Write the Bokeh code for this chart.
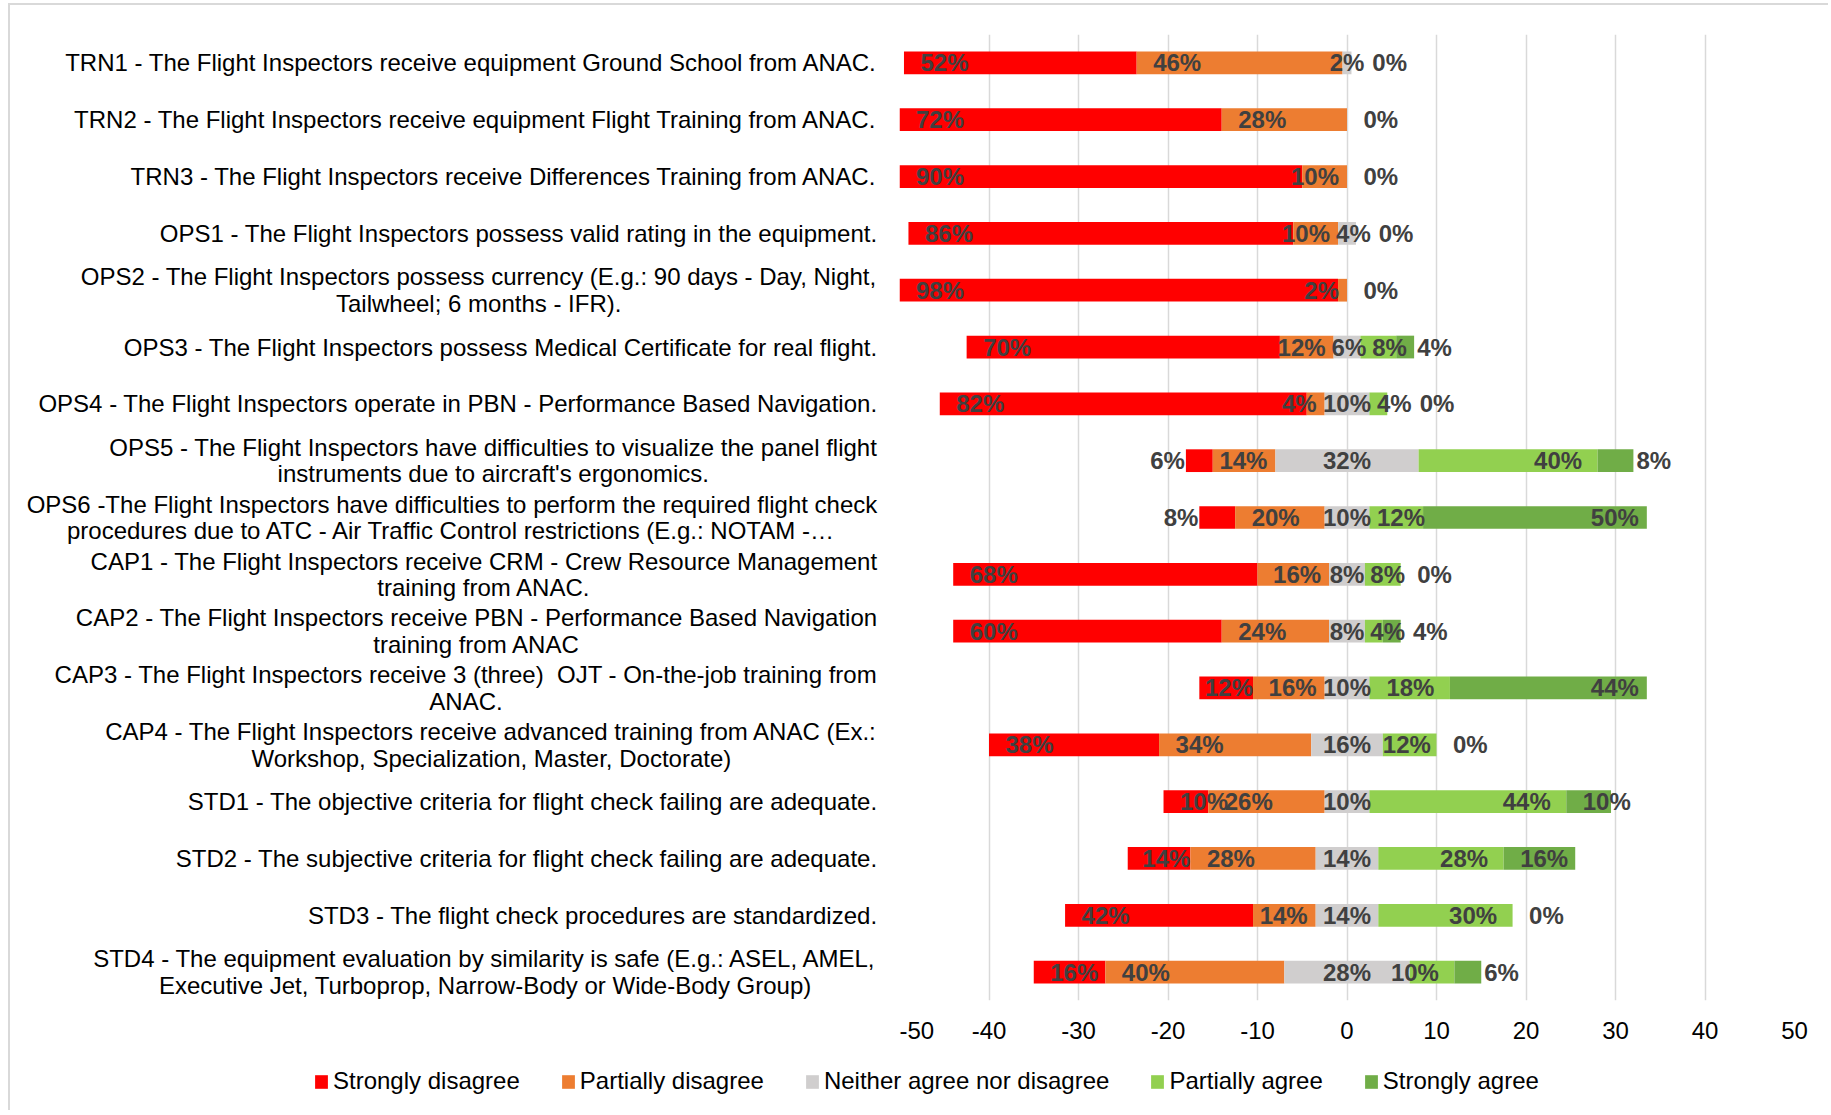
from bokeh.plotting import figure
from bokeh.layouts import row, column
from bokeh.models import (ColumnDataSource, FactorRange, Range1d, FixedTicker,
                          Legend, LegendItem)
from bokeh.core.properties import value
from bokeh.embed import file_html
from bokeh.resources import INLINE

# ---------------- data ----------------
categories = [
    "TRN1 - The Flight Inspectors receive equipment Ground School from ANAC.",
    "TRN2 - The Flight Inspectors receive equipment Flight Training from ANAC.",
    "TRN3 - The Flight Inspectors receive Differences Training from ANAC.",
    "OPS1 - The Flight Inspectors possess valid rating in the equipment.",
    "OPS2 - The Flight Inspectors possess currency (E.g.: 90 days - Day, Night,\nTailwheel; 6 months - IFR).",
    "OPS3 - The Flight Inspectors possess Medical Certificate for real flight.",
    "OPS4 - The Flight Inspectors operate in PBN - Performance Based Navigation.",
    "OPS5 - The Flight Inspectors have difficulties to visualize the panel flight\ninstruments due to aircraft's ergonomics.",
    "OPS6 -The Flight Inspectors have difficulties to perform the required flight check\nprocedures due to ATC - Air Traffic Control restrictions (E.g.: NOTAM -\u2026",
    "CAP1 - The Flight Inspectors receive CRM - Crew Resource Management\ntraining from ANAC.",
    "CAP2 - The Flight Inspectors receive PBN - Performance Based Navigation\ntraining from ANAC",
    "CAP3 - The Flight Inspectors receive 3 (three)\u00a0 OJT - On-the-job training from\nANAC.",
    "CAP4 - The Flight Inspectors receive advanced training from ANAC (Ex.:\nWorkshop, Specialization, Master, Doctorate)",
    "STD1 - The objective criteria for flight check failing are adequate.",
    "STD2 - The subjective criteria for flight check failing are adequate.",
    "STD3 - The flight check procedures are standardized.",
    "STD4 - The equipment evaluation by similarity is safe (E.g.: ASEL, AMEL,\nExecutive Jet, Turboprop, Narrow-Body or Wide-Body Group)",
]
strongly_disagree  = [52, 72, 90, 86, 98, 70, 82, 6, 8, 68, 60, 12, 38, 10, 14, 42, 16]
partially_disagree = [46, 28, 10, 10, 2, 12, 4, 14, 20, 16, 24, 16, 34, 26, 28, 14, 40]
neutral            = [2, 0, 0, 4, 0, 6, 10, 32, 10, 8, 8, 10, 16, 10, 14, 14, 28]
partially_agree    = [0, 0, 0, 0, 0, 8, 4, 40, 12, 8, 4, 18, 12, 44, 28, 30, 10]
strongly_agree     = [0, 0, 0, 0, 0, 4, 0, 8, 50, 0, 4, 44, 0, 10, 16, 0, 6]

series_names = ["Strongly disagree", "Partially disagree", "Neither agree nor disagree",
                "Partially agree", "Strongly agree"]
series_colors = ["#FF0000", "#ED7D31", "#D0CECE", "#92D050", "#70AD47"]
x_ticks = [-50, -40, -30, -20, -10, 0, 10, 20, 30, 40, 50]
x_tick_labels = ["-50", "-40", "-30", "-20", "-10", "0", "10", "20", "30", "40", "50"]

# ---------------- layout ----------------
TW = 1818            # total canvas width
LW = 889             # width of the category-label panel
PH = 1050            # height of the chart row
LH = 55              # height of the legend strip
MT, MB, MR = 29, 55, 34
FRAME_W = TW - LW - MR
X0, X1 = -50, 50
PPU = FRAME_W / (X1 - X0)
FONT = "Liberation Sans"
FS = 24

# Arial / Liberation Sans advance widths (1/1000 em)
_W = {" ": 278, "\u00a0": 278, "-": 333, ".": 278, ",": 278, "(": 333, ")": 333, ":": 278,
      ";": 278, "'": 191, "%": 889, "\u2026": 1000}
for c in "0123456789":
    _W[c] = 556
for c, w in zip("ABCDEFGHIJKLMNOPQRSTUVWXYZ",
                [667, 667, 722, 722, 667, 611, 778, 722, 278, 500, 667, 556, 833, 722, 778,
                 667, 778, 722, 667, 611, 722, 667, 944, 667, 667, 611]):
    _W[c] = w
for c, w in zip("abcdefghijklmnopqrstuvwxyz",
                [556, 556, 500, 556, 556, 278, 556, 556, 222, 222, 500, 222, 833, 556, 556,
                 556, 556, 333, 500, 278, 556, 500, 722, 500, 500, 500]):
    _W[c] = w


def text_w(s, size=FS):
    return sum(_W.get(ch, 556) for ch in s) / 1000.0 * size


# ---------------- segments (axis unit = half a percent, neutral centred) ----------------
seg = {k: [] for k in ("sd_l", "sd_r", "pd_l", "pd_r", "n_l", "n_r", "pa_l", "pa_r", "sa_l", "sa_r")}
for sd, pd, n, pa, sa in zip(strongly_disagree, partially_disagree, neutral,
                             partially_agree, strongly_agree):
    nh = n / 4.0
    pd_r = -nh
    pd_l = pd_r - pd / 2.0
    sd_r = pd_l
    sd_l = sd_r - sd / 2.0
    pa_l = nh
    pa_r = pa_l + pa / 2.0
    sa_l = pa_r
    sa_r = sa_l + sa / 2.0
    for k, v in (("sd_l", sd_l), ("sd_r", sd_r), ("pd_l", pd_l), ("pd_r", pd_r),
                 ("n_l", -nh), ("n_r", nh), ("pa_l", pa_l), ("pa_r", pa_r),
                 ("sa_l", sa_l), ("sa_r", sa_r)):
        seg[k].append(v)

y_range = FactorRange(factors=list(reversed(categories)))

p = figure(width=TW - LW, height=PH, output_backend="svg", toolbar_location=None,
           x_range=Range1d(X0, X1), y_range=y_range, y_axis_location=None,
           min_border_left=0, min_border_right=MR, min_border_top=MT, min_border_bottom=MB)
p.outline_line_color = None
p.background_fill_color = "white"
p.border_fill_color = "white"

renderers = []
for key, color in zip(("sd", "pd", "n", "pa", "sa"), series_colors):
    src = ColumnDataSource(dict(y=categories, left=seg[key + "_l"], right=seg[key + "_r"]))
    r = p.hbar(y="y", left="left", right="right", height=0.4, source=src,
               fill_color=color, line_color=None)
    renderers.append(r)

# ---------------- data labels ----------------
lx, ly, lt, lo = [], [], [], []


def px(v):
    return v * PPU


def add(x_anchor, cat, txt, left_px):
    lx.append(x_anchor)
    ly.append(cat)
    lt.append(txt)
    lo.append(left_px - px(x_anchor))


for i, cat in enumerate(categories):
    sd, pd, n, pa, sa = (strongly_disagree[i], partially_disagree[i], neutral[i],
                         partially_agree[i], strongly_agree[i])
    prev_right = None
    if sd > 0:
        t = f"{sd}%"; tw = text_w(t)
        l, r = seg["sd_l"][i], seg["sd_r"][i]
        sw = px(r - l)
        if sw < 40:
            left = px(l) - 1 - tw
        elif sw - tw >= 16.5:
            left = px(l) + 16.5
        elif sw - tw >= 0:
            left = px(l) + (sw - tw)
        else:
            left = px(l) + 16.5
        add(l, cat, t, left)
        prev_right = left + tw
    if pd > 0:
        t = f"{pd}%"; tw = text_w(t)
        l, r = seg["pd_l"][i], seg["pd_r"][i]
        sw = px(r - l)
        if sw >= tw + 33:
            left = px(l) + 16.5
            add(l, cat, t, left)
        else:
            left = px(r) - 8 - tw
            add(r, cat, t, left)
        prev_right = left + tw
    if n > 0:
        t = f"{n}%"; tw = text_w(t)
        c = (seg["n_l"][i] + seg["n_r"][i]) / 2.0
        left = px(c) - tw / 2.0
        if prev_right is not None:
            left = max(left, prev_right + 6)
        add(c, cat, t, left)
        prev_right = left + tw
    if pa > 0:
        t = f"{pa}%"; tw = text_w(t)
        l, r = seg["pa_l"][i], seg["pa_r"][i]
        sw = px(r - l)
        if tw <= sw:
            left = px(r) - min(15.5, sw - tw) - tw
        elif sw >= 40:
            left = px(r) - 15.5 - tw
        else:
            left = px(l) + 4
        if prev_right is not None:
            left = max(left, prev_right + 6)
        add(r, cat, t, left)
        prev_right = left + tw
    t = f"{sa}%"; tw = text_w(t)
    l, r = seg["sa_l"][i], seg["sa_r"][i]
    sw = px(r - l)
    if sw > tw + 33:
        left = px(r) - 8 - tw
    elif sw >= 40:
        left = px(l) + 16.5
    else:
        left = max(px(l) + 16.5, px(r) + 3)
    if prev_right is not None:
        left = max(left, prev_right + 8)
    add(l, cat, t, left)

lab_src = ColumnDataSource(dict(x=lx, y=ly, t=lt, xo=lo))
p.text(x="x", y="y", text="t", x_offset="xo", source=lab_src,
       text_font=value(FONT), text_font_size=f"{FS}px", text_font_style="bold",
       text_color="#404040", text_align="left", text_baseline="middle")

# ---------------- axes & grid ----------------
ticker = FixedTicker(ticks=x_ticks)
p.xaxis.ticker = ticker
p.xaxis.major_label_overrides = dict(zip(x_ticks, x_tick_labels))
p.xaxis.axis_line_color = None
p.xaxis.major_tick_line_color = None
p.xaxis.minor_tick_line_color = None
p.xaxis.major_tick_out = 0
p.xaxis.major_tick_in = 0
p.xaxis.major_label_standoff = 21
p.xaxis.major_label_text_font = FONT
p.xaxis.major_label_text_font_size = f"{FS}px"
p.xaxis.major_label_text_color = "black"
p.xgrid.ticker = ticker
p.xgrid.grid_line_color = "#D9D9D9"
p.xgrid.grid_line_width = 1.5
p.ygrid.grid_line_color = None

# ---------------- category labels (left panel sharing the y range) ----------------
pl = figure(width=LW, height=PH, output_backend="svg", toolbar_location=None,
            x_range=Range1d(0, LW), y_range=y_range,
            x_axis_location=None, y_axis_location=None,
            min_border_left=0, min_border_right=0, min_border_top=MT, min_border_bottom=MB)
pl.outline_line_color = None
pl.grid.visible = False
LABEL_RIGHT = LW - 22
cx, ca = [], []
for c in categories:
    lines = c.split("\n")
    if len(lines) == 1:
        cx.append(LABEL_RIGHT)
        ca.append("right")
    else:
        cx.append(LABEL_RIGHT - max(text_w(s) for s in lines) / 2.0)
        ca.append("center")
cat_src = ColumnDataSource(dict(x=cx, y=categories, t=categories, a=ca))
pl.text(x="x", y="y", text="t", text_align="a", source=cat_src,
        text_baseline="middle", text_line_height=0.98,
        text_font=value(FONT), text_font_size=f"{FS}px", text_color="black")

# ---------------- legend strip ----------------
pleg = figure(width=TW, height=LH, output_backend="svg", toolbar_location=None,
              x_range=Range1d(0, TW), y_range=Range1d(0, LH),
              x_axis_location=None, y_axis_location=None,
              min_border_left=0, min_border_right=0, min_border_top=0, min_border_bottom=0)
pleg.outline_line_color = None
pleg.grid.visible = False
leg_items = []
for nm, color in zip(series_names, series_colors):
    # proxy glyph far outside the visible range: only its legend swatch shows
    rr = pleg.hbar(y=[-1000], left=[0], right=[1], height=1, fill_color=color, line_color=None)
    leg_items.append(LegendItem(label=nm, renderers=[rr]))
legend = Legend(items=leg_items, orientation="horizontal", location=(303, 15),
                padding=0, margin=0, spacing=40, glyph_width=16, glyph_height=17,
                label_standoff=4, label_text_font=FONT, label_text_font_size=f"{FS}px",
                label_text_color="black", border_line_color=None, background_fill_alpha=0)
pleg.add_layout(legend)

layout = column(row(pl, p), pleg,
                styles={"margin-left": "8px", "margin-top": "3px",
                        "border-top": "2px solid #D9D9D9", "border-left": "2px solid #D9D9D9"})

open("out.html", "w").write(file_html(layout, INLINE))
